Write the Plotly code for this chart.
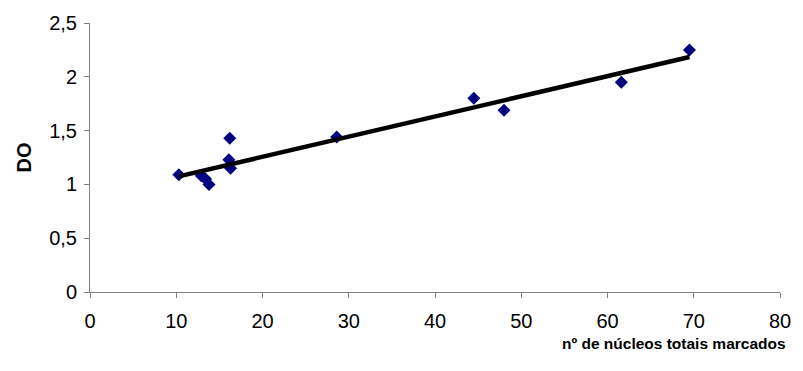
import numpy as np
import plotly.graph_objects as go

# Data
nucleos = [10.3, 12.9, 13.4, 13.8, 16.2, 16.1, 16.3, 28.6, 44.5, 48.0, 61.6, 69.5]
do_vals = [1.09, 1.08, 1.05, 1.00, 1.43, 1.23, 1.15, 1.44, 1.80, 1.69, 1.95, 2.25]

x_ticks = [0, 10, 20, 30, 40, 50, 60, 70, 80]
y_ticks = [0, 0.5, 1, 1.5, 2, 2.5]
y_tick_labels = ["0", "0,5", "1", "1,5", "2", "2,5"]
x_title = "nº de núcleos totais marcados"
y_title = "DO"

# Linear trendline
slope, intercept = np.polyfit(nucleos, do_vals, 1)
tx = [min(nucleos), max(nucleos)]
ty = [slope * v + intercept for v in tx]

FONT = "Liberation Sans, Arial, sans-serif"

fig = go.Figure()
fig.add_trace(go.Scatter(
    x=nucleos, y=do_vals, mode="markers",
    marker=dict(symbol="diamond", size=10, color="#000080", line=dict(width=0)),
    showlegend=False, hoverinfo="skip"))
fig.add_trace(go.Scatter(
    x=tx, y=ty, mode="lines",
    line=dict(color="black", width=4.5),
    showlegend=False, hoverinfo="skip"))

fig.update_layout(
    width=803, height=371,
    margin=dict(l=90, r=13, t=19, b=79),
    paper_bgcolor="white", plot_bgcolor="white",
    font=dict(family=FONT, size=20, color="black"),
    xaxis=dict(range=[0, 80], tickvals=x_ticks, ticks="outside", ticklen=5,
               tickcolor="#808080", showline=True, linecolor="#808080", linewidth=1,
               showgrid=False, zeroline=False, fixedrange=True,
               ticklabelstandoff=6, ticklabeloverflow="allow",
               tickfont=dict(size=20)),
    yaxis=dict(range=[0, 2.5], tickvals=y_ticks, ticktext=y_tick_labels,
               ticks="outside", ticklen=5, tickcolor="#808080",
               showline=True, linecolor="#808080", linewidth=1,
               showgrid=False, zeroline=False, fixedrange=True,
               ticklabelstandoff=3, ticklabeloverflow="allow",
               tickfont=dict(size=20),
               title=dict(text="<b>" + y_title + "</b>", standoff=12,
                          font=dict(size=20))),
    annotations=[dict(
        text="<b>" + x_title + "</b>", xref="paper", yref="paper",
        x=1.012, y=-0.19, xanchor="right", yanchor="middle", showarrow=False,
        font=dict(size=15.5, family=FONT, color="black"))],
)

fig.write_html("out.html")
